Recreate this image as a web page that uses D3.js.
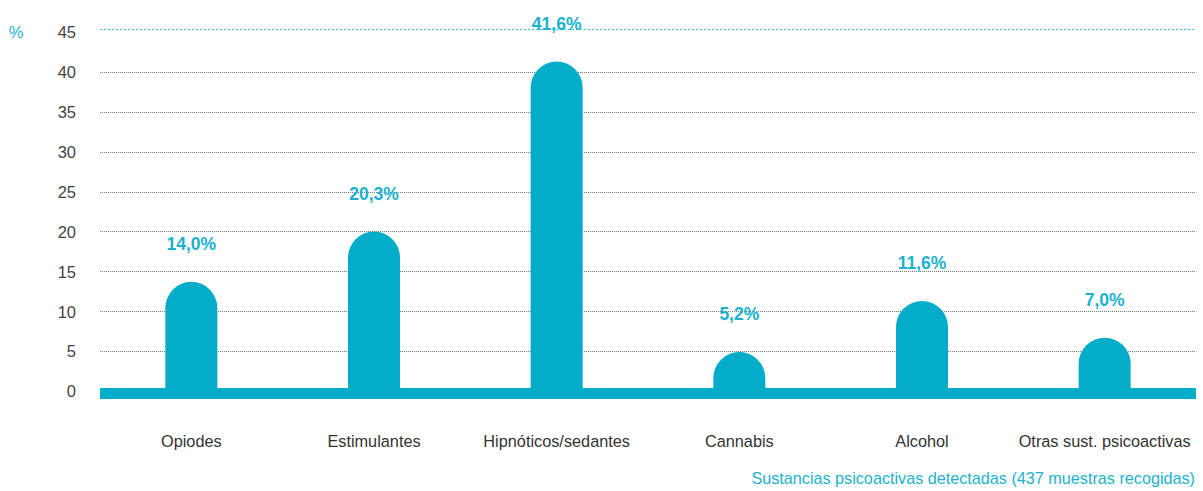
<!DOCTYPE html>
<html><head><meta charset="utf-8">
<script src="https://cdn.jsdelivr.net/npm/d3@7"></script>
<style>body{margin:0;background:#fff}svg{display:block}text{font-family:"Liberation Sans",Arial,sans-serif}</style>
</head><body><svg id="c" width="1203" height="491"></svg>
<script>
const categories = ["Opiodes","Estimulantes","Hipnóticos/sedantes","Cannabis","Alcohol","Otras sust. psicoactivas"];
const values = [14.0, 20.3, 41.6, 5.2, 11.6, 7.0];
const valueLabels = ["14,0%","20,3%","41,6%","5,2%","11,6%","7,0%"];
const yTicks = [0,5,10,15,20,25,30,35,40,45];
const axisTitle = "Sustancias psicoactivas detectadas (437 muestras recogidas)";
const unitLabel = "%";

const cyan = "#03acc8", textCyan = "#1cb2cf", grey = "#444";
const svg = d3.select("#c");
const x = d3.scaleBand().domain(categories).range([100,1196]);
const y = d3.scaleLinear().domain([0,40]).range([391.6,72.3]);
const bw = 52;

// gridlines
svg.append("g").selectAll("line").data(yTicks.filter(t=>t>0 && t<45)).join("line")
  .attr("x1",100).attr("x2",1196).attr("y1",d=>y(d)).attr("y2",d=>y(d))
  .attr("stroke","#777").attr("stroke-width",1).attr("stroke-dasharray","1,1").attr("shape-rendering","crispEdges");
svg.append("line").attr("x1",100).attr("x2",1196).attr("y1",y(45)-3).attr("y2",y(45)-3)
  .attr("stroke","#3fc0d8").attr("stroke-width",1).attr("stroke-dasharray","2,2").attr("shape-rendering","crispEdges");

// y tick labels
svg.append("g").selectAll("text").data(yTicks).join("text")
  .attr("x",76).attr("y",d=>y(d)).attr("dy","0.35em").attr("text-anchor","end")
  .attr("font-size",16.5).attr("fill",grey).text(d=>d);
svg.append("text").attr("x",16).attr("y",y(45)).attr("dy","0.35em").attr("text-anchor","middle")
  .attr("font-size",16.5).attr("fill",textCyan).text(unitLabel);

// bars with rounded tops
const r = bw/2;
svg.append("g").selectAll("path").data(values).join("path")
  .attr("fill",cyan)
  .attr("d",(d,i)=>{
    const cx = x(categories[i]) + x.bandwidth()/2;
    const x0 = cx - r, x1 = cx + r, yb = y(0), yt = y(d) + 2;
    return `M${x0},${yb}L${x0},${yt+r}A${r},${r} 0 0 1 ${x1},${yt+r}L${x1},${yb}Z`;
  });
// baseline band
svg.append("rect").attr("x",100).attr("y",y(0)-3.6).attr("width",1096).attr("height",11).attr("fill",cyan);

// value labels
svg.append("g").selectAll("text").data(values).join("text")
  .attr("x",(d,i)=>x(categories[i])+x.bandwidth()/2).attr("y",d=>y(d)-30)
  .attr("text-anchor","middle").attr("font-size",17.5).attr("font-weight","bold").attr("fill",textCyan)
  .text((d,i)=>valueLabels[i]);

// category labels
svg.append("g").selectAll("text").data(categories).join("text")
  .attr("x",d=>x(d)+x.bandwidth()/2).attr("y",447)
  .attr("text-anchor","middle").attr("font-size",16.3).attr("fill","#333").text(d=>d);

svg.append("text").attr("x",1195).attr("y",484).attr("text-anchor","end")
  .attr("font-size",16.2).attr("fill",textCyan).text(axisTitle);
</script></body></html>
